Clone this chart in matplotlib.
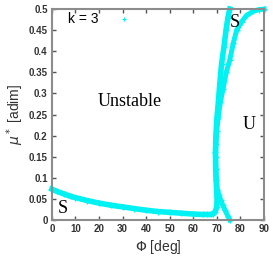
import numpy as np
import matplotlib
matplotlib.use("Agg")
from matplotlib import pyplot as plt

# curve A: stable branch along the bottom, then the sharp rise near 70 deg
phiA = [0, 2, 5, 8, 10, 15, 20, 25, 30, 35, 40, 45, 50, 55, 60, 64, 66, 67.5,
        68.5, 69.3, 69.9, 70.1, 69.9, 69.7, 69.5, 69.4, 69.6, 70.0, 70.5,
        71.2, 72.0, 73.0, 73.9, 74.7, 75.5]
muA = [0.073, 0.068, 0.062, 0.056, 0.053, 0.046, 0.040, 0.035, 0.031, 0.027,
       0.023, 0.020, 0.018, 0.016, 0.014, 0.013, 0.013, 0.013,
       0.015, 0.020, 0.030, 0.045, 0.070, 0.095, 0.12, 0.16, 0.20, 0.24, 0.27,
       0.32, 0.37, 0.41, 0.45, 0.48, 0.50]

# curve B: from mu=0 at ~75.5 deg, up to the knee, then out to 90 deg
phiB = [75.5, 74.6, 73.4, 72.5, 71.6, 70.8, 70.2, 69.8, 69.6, 69.5, 69.6,
        69.9, 70.6, 71.5, 72.6, 74.0, 75.5, 77.0, 78.4, 80.5, 82.6, 85.5,
        88.0, 90.0]
muB = [0.0, 0.010, 0.024, 0.035, 0.047, 0.060, 0.072, 0.095, 0.12, 0.15, 0.18,
       0.21, 0.245, 0.28, 0.31, 0.35, 0.38, 0.42, 0.45, 0.47, 0.485, 0.495,
       0.499, 0.50]

# lone point near the top
phiC = [30.6]
muC = [0.476]

xticks = [0, 10, 20, 30, 40, 50, 60, 70, 80, 90]
yticks = [0, 0.05, 0.1, 0.15, 0.2, 0.25, 0.3, 0.35, 0.4, 0.45, 0.5]
ytick_labels = ["0", "0.05", "0.1", "0.15", "0.2", "0.25", "0.3", "0.35",
                "0.4", "0.45", "0.5"]

c = "#00f2f2"
grey = "#8c8c8c"

fig = plt.figure(figsize=(2.73, 2.6), dpi=100)
ax = fig.add_axes([0.19, 0.154, 0.777, 0.811])

ax.plot(phiA, muA, color=c, lw=4, marker="+", ms=4.5, mew=1, clip_on=False)
ax.plot(phiB, muB, color=c, lw=3.6, marker="+", ms=4.5, mew=1, clip_on=False)
ax.plot(phiC, muC, ls="none", color=c, marker="+", ms=3, mew=0.8)

ax.set_xlim(0, 90)
ax.set_ylim(0, 0.5)
ax.set_xticks(xticks)
ax.set_yticks(yticks)
ax.set_yticklabels(ytick_labels)

for s in ax.spines.values():
    s.set_color(grey)
    s.set_linewidth(1.5)
ax.tick_params(direction="in", length=3, width=1, color="#555555",
               top=True, right=True, labelsize=7, labelcolor="#333333", pad=3)
for lab in ax.get_xticklabels() + ax.get_yticklabels():
    lab.set_fontweight("bold")
    lab.set_family("Liberation Sans")

ax.set_xlabel(r"$\Phi$ [deg]", family="Liberation Sans", fontsize=10,
              color="#333333", labelpad=3)
ax.set_ylabel(r"$\mu^*$ [adim]", family="Liberation Sans", fontsize=10,
              color="#333333", labelpad=2)

ax.text(6.8, 0.476, "k = 3", family="Liberation Sans", fontsize=10,
        va="center", ha="left")
ax.text(33, 0.28, "Unstable", family="Liberation Serif", fontsize=13,
        va="center", ha="center")
ax.text(4.7, 0.028, "S", family="Liberation Serif", fontsize=13,
        va="center", ha="center")
ax.text(77.7, 0.469, "S", family="Liberation Serif", fontsize=13,
        va="center", ha="center")
ax.text(83.6, 0.227, "U", family="Liberation Serif", fontsize=13,
        va="center", ha="center")

fig.savefig("out.png", dpi=100)
